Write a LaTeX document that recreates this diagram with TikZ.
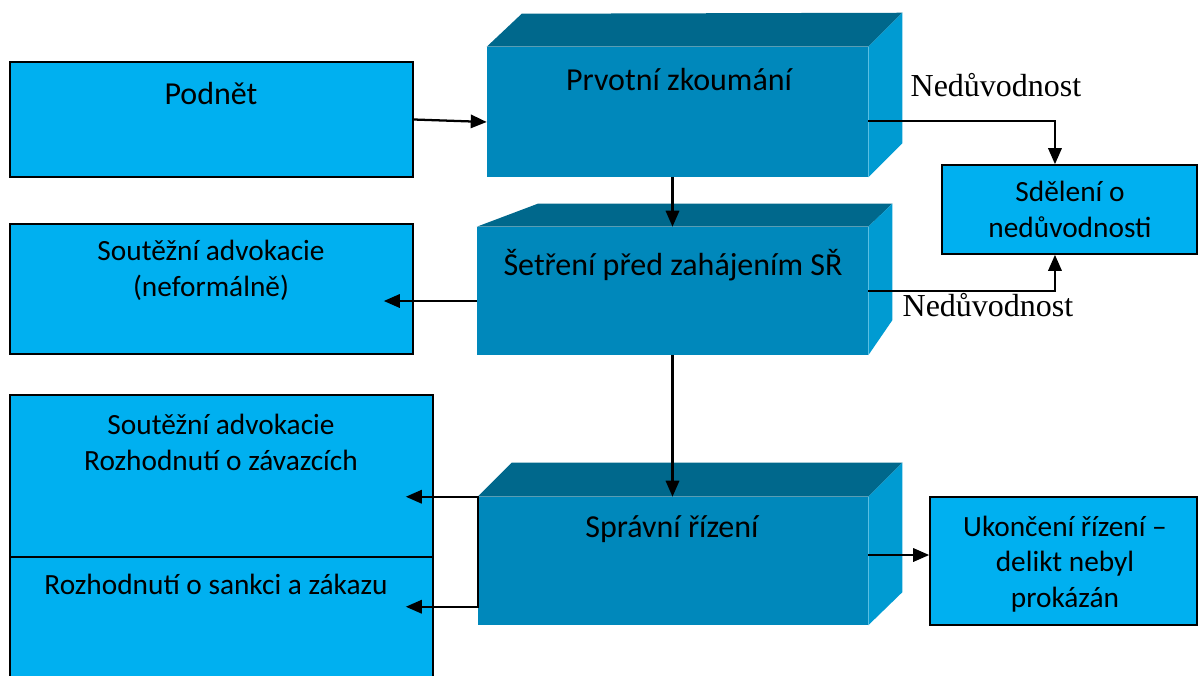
\documentclass[tikz,border=0pt]{standalone}
\usepackage{fontspec}
\setmainfont{Carlito}
\newfontfamily\timesface{Liberation Serif}
\usetikzlibrary{arrows.meta,calc}
\definecolor{lightblue}{HTML}{00B0F0}
\definecolor{frontblue}{HTML}{0088BB}
\definecolor{topblue}{HTML}{00688C}
\definecolor{sideblue}{HTML}{009BD2}
\tikzset{
  flatbox/.style={draw=black,line width=1.2pt,fill=lightblue,inner sep=0pt},
  cubebox/.style={fill=frontblue,inner sep=0pt},
  bigtext/.style={font=\fontsize{24}{29}\selectfont,anchor=base},
  smalltext/.style={font=\fontsize{22}{26.5}\selectfont,anchor=base,align=center},
  seriftext/.style={font=\timesface\fontsize{24}{29}\selectfont,anchor=base},
  conn/.style={line width=1.7pt},
  arr/.style={conn,-{Triangle[length=12pt,width=10pt]}},
  twoarr/.style={conn,{Triangle[length=12pt,width=10pt]}-{Triangle[length=12pt,width=10pt]}},
}
\begin{document}
\begin{tikzpicture}[x=0.75pt,y=-0.75pt]
  \useasboundingbox (0,0) rectangle (1199,675);
  \clip (0,0) rectangle (1199,675);
  % flat boxes
  \node[flatbox,minimum width=302.25pt,minimum height=86.25pt] (podnet) at (211.5,119.5) {};
  \node[flatbox,minimum width=302.25pt,minimum height=97.5pt] (advokacie) at (211.5,289) {};
  \node[flatbox,minimum width=191.25pt,minimum height=66.75pt] (sdeleni) at (1069.5,209.5) {};
  \node[flatbox,minimum width=317.25pt,minimum height=121.5pt] (zavazky) at (221.5,476) {};
  \node[flatbox,minimum width=317.25pt,minimum height=99.75pt] (sankce) at (221.5,623.5) {};
  \node[flatbox,minimum width=200.25pt,minimum height=96pt] (ukonceni) at (1063.5,561) {};
  % 3D boxes
  \node[cubebox,minimum width=285.75pt,minimum height=97.5pt] (prvotni) at (677.5,112) {};
  \fill[topblue] (prvotni.north west) -- ++(35,-33) -- ($(prvotni.north east)+(34,-34)$) -- (prvotni.north east) -- cycle;
  \fill[sideblue] (prvotni.north east) -- ++(34,-34) -- ($(prvotni.south east)+(34,-34)$) -- (prvotni.south east) -- cycle;
  \node[cubebox,minimum width=293.25pt,minimum height=96pt] (setreni) at (672.5,291) {};
  \fill[topblue] (setreni.north west) -- ++(61,-23) -- ($(setreni.north east)+(24,-23)$) -- (setreni.north east) -- cycle;
  \fill[sideblue] (setreni.north east) -- ++(24,-23) -- ($(setreni.south east)+(24,-35)$) -- (setreni.south east) -- cycle;
  \node[cubebox,minimum width=292.5pt,minimum height=96pt] (spravni) at (673,561) {};
  \fill[topblue] (spravni.north west) -- ++(34,-34) -- ($(spravni.north east)+(34,-34)$) -- (spravni.north east) -- cycle;
  \fill[sideblue] (spravni.north east) -- ++(34,-34) -- ($(spravni.south east)+(34,-33)$) -- (spravni.south east) -- cycle;
  % texts (multi-line ones sit on their last baseline)
  \node[bigtext] (podnet-t) at (211,104) {Podnět};
  \node[bigtext] (prvotni-t) at (679,90) {Prvotní zkoumání};
  \node[bigtext] (setreni-t) at (673,275) {Šetření před zahájením SŘ};
  \node[bigtext] (spravni-t) at (672,537) {Správní řízení};
  \node[smalltext] (sdeleni-t) at (1070,237) {Sdělení o\\nedůvodnosti};
  \node[smalltext] (advokacie-t) at (211,296) {Soutěžní advokacie\\(neformálně)};
  \node[smalltext] (zavazky-t) at (221,470) {Soutěžní advokacie\\Rozhodnutí o závazcích};
  \node[smalltext] (sankce-t) at (216,594) {Rozhodnutí o sankci a zákazu};
  \node[smalltext] (ukonceni-t) at (1065,607) {Ukončení řízení –\\delikt nebyl\\prokázán};
  \node[seriftext] (ned1) at (996,96) {Nedůvodnost};
  \node[seriftext] (ned2) at (988,316) {Nedůvodnost};
  % connectors
  \draw[arr] (podnet.east) -- ([yshift=-7.5pt]prvotni.west);
  \draw[arr] ([yshift=-6.75pt]prvotni.east) -| ([xshift=-10.9pt]sdeleni.north);
  \draw[arr] (prvotni.south -| setreni.north) -- (setreni.north);
  \coordinate (s1) at ([yshift=-7.5pt]setreni.west);
  \draw[arr] (s1) -- ([xshift=-22.5pt]s1 -| advokacie.east);
  \draw[arr] (setreni.east) -| ([xshift=-10.9pt]sdeleni.south);
  \draw[arr] (setreni.south) -- (setreni.south |- spravni.north);
  \coordinate (s2) at ([yshift=4.5pt]spravni.east);
  \draw[arr] (s2) -- (s2 -| ukonceni.west);
  \coordinate (brk) at ([yshift=-82.5pt]spravni.north west);
  \draw[twoarr] ([xshift=-21pt]spravni.north west -| zavazky.east) -- (spravni.north west) -- (brk) -- ([xshift=-21pt]brk -| sankce.east);
\end{tikzpicture}
\end{document}
